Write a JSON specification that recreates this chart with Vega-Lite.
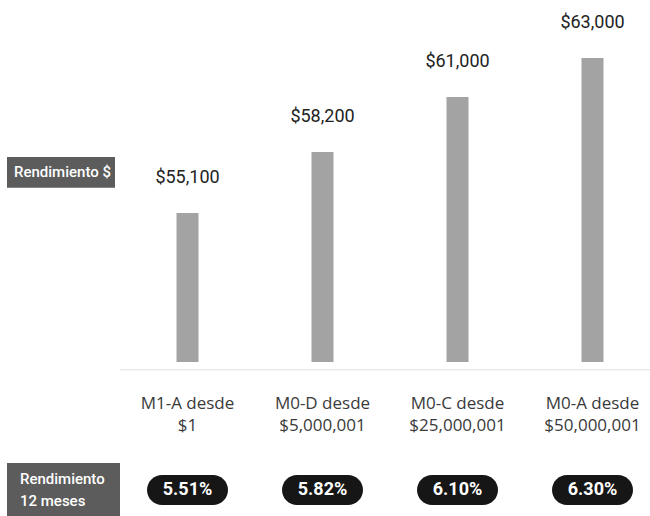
{
  "$schema": "https://vega.github.io/schema/vega-lite/v6.json",
  "padding": 0,
  "background": "white",
  "config": {"view": {"stroke": null}, "concat": {"spacing": 30}},
  "datasets": {
    "tiers": [
      {"tier": "M1-A desde|$1", "value": 55100, "rate": "5.51%"},
      {"tier": "M0-D desde|$5,000,001", "value": 58200, "rate": "5.82%"},
      {"tier": "M0-C desde|$25,000,001", "value": 61000, "rate": "6.10%"},
      {"tier": "M0-A desde|$50,000,001", "value": 63000, "rate": "6.30%"}
    ],
    "headers": [
      {"tier": "hdr", "label": "Rendimiento $", "row": "top"},
      {"tier": "hdr", "label": "Rendimiento\n12 meses", "row": "bottom"}
    ]
  },
  "vconcat": [
    {
      "width": 650,
      "height": 362,
      "layer": [
        {
          "data": {"name": "tiers"},
          "mark": {"type": "bar", "width": 22, "color": "#a3a3a3"},
          "encoding": {
            "x": {
              "field": "tier", "type": "nominal", "sort": null,
              "scale": {"domain": ["hdr", "M1-A desde|$1", "M0-D desde|$5,000,001", "M0-C desde|$25,000,001", "M0-A desde|$50,000,001"], "range": [-15, 660], "paddingInner": 0, "paddingOuter": 0},
              "axis": {"title": null, "domain": false, "ticks": false, "labelAngle": 0, "labelPadding": 33, "labelBaseline": "top", "labelFont": "Open Sans", "labelFontSize": 17, "labelLineHeight": 22, "labelColor": "#3a3a3a", "labelExpr": "datum.value == 'hdr' ? '' : split(datum.value, '|')"}
            },
            "y": {"field": "value", "type": "quantitative", "scale": {"domain": [47500, 65950], "zero": false, "nice": false}, "axis": null},
            "y2": {"datum": 47500}
          }
        },
        {
          "data": {"name": "tiers"},
          "mark": {"type": "tick", "orient": "horizontal", "size": 135, "thickness": 1, "color": "#d4d4d4"},
          "encoding": {
            "x": {"field": "tier", "type": "nominal", "sort": null},
            "y": {"datum": 47100}
          }
        },
        {
          "data": {"name": "tiers"},
          "mark": {"type": "text", "dy": -35, "baseline": "middle", "font": "Roboto", "fontSize": 18, "color": "#222222"},
          "encoding": {
            "x": {"field": "tier", "type": "nominal", "sort": null},
            "y": {"field": "value", "type": "quantitative"},
            "text": {"field": "value", "type": "quantitative", "format": "$,"}
          }
        },
        {
          "data": {"name": "headers"},
          "transform": [{"filter": "datum.row == 'top'"}],
          "mark": {"type": "bar", "width": 108, "xOffset": 8.5, "color": "#5c5c5c"},
          "encoding": {
            "x": {"field": "tier", "type": "nominal"},
            "y": {"datum": 57950},
            "y2": {"datum": 56380}
          }
        },
        {
          "data": {"name": "headers"},
          "transform": [{"filter": "datum.row == 'top'"}],
          "mark": {"type": "text", "dx": 10, "baseline": "middle", "font": "Roboto", "fontSize": 15, "fontWeight": 500, "color": "white"},
          "encoding": {
            "x": {"field": "tier", "type": "nominal"},
            "y": {"datum": 57170},
            "text": {"field": "label"}
          }
        }
      ]
    },
    {
      "width": 650,
      "height": 54,
      "layer": [
        {
          "data": {"name": "headers"},
          "transform": [{"filter": "datum.row == 'bottom'"}],
          "mark": {"type": "bar", "width": 113, "height": 54, "xOffset": 11, "color": "#5c5c5c"},
          "encoding": {
            "x": {
              "field": "tier", "type": "nominal", "sort": null,
              "scale": {"domain": ["hdr", "M1-A desde|$1", "M0-D desde|$5,000,001", "M0-C desde|$25,000,001", "M0-A desde|$50,000,001"], "range": [-15, 660], "paddingInner": 0, "paddingOuter": 0},
              "axis": null
            }
          }
        },
        {
          "data": {"name": "headers"},
          "transform": [{"filter": "datum.row == 'bottom'"}],
          "mark": {"type": "text", "align": "left", "dx": 35, "dy": -11, "y": {"expr": "height / 2"}, "baseline": "middle", "lineBreak": "\n", "lineHeight": 22, "font": "Roboto", "fontSize": 15, "fontWeight": 500, "color": "white"},
          "encoding": {
            "x": {"field": "tier", "type": "nominal", "bandPosition": 0},
            "text": {"field": "label"}
          }
        },
        {
          "data": {"name": "tiers"},
          "mark": {"type": "bar", "width": 81, "height": 30, "cornerRadius": 15, "color": "#161616"},
          "encoding": {
            "x": {"field": "tier", "type": "nominal", "sort": null}
          }
        },
        {
          "data": {"name": "tiers"},
          "mark": {"type": "text", "y": {"expr": "height / 2"}, "baseline": "middle", "font": "Roboto", "fontSize": 18, "fontWeight": "bold", "color": "white"},
          "encoding": {
            "x": {"field": "tier", "type": "nominal", "sort": null},
            "text": {"field": "rate"}
          }
        }
      ]
    }
  ]
}
